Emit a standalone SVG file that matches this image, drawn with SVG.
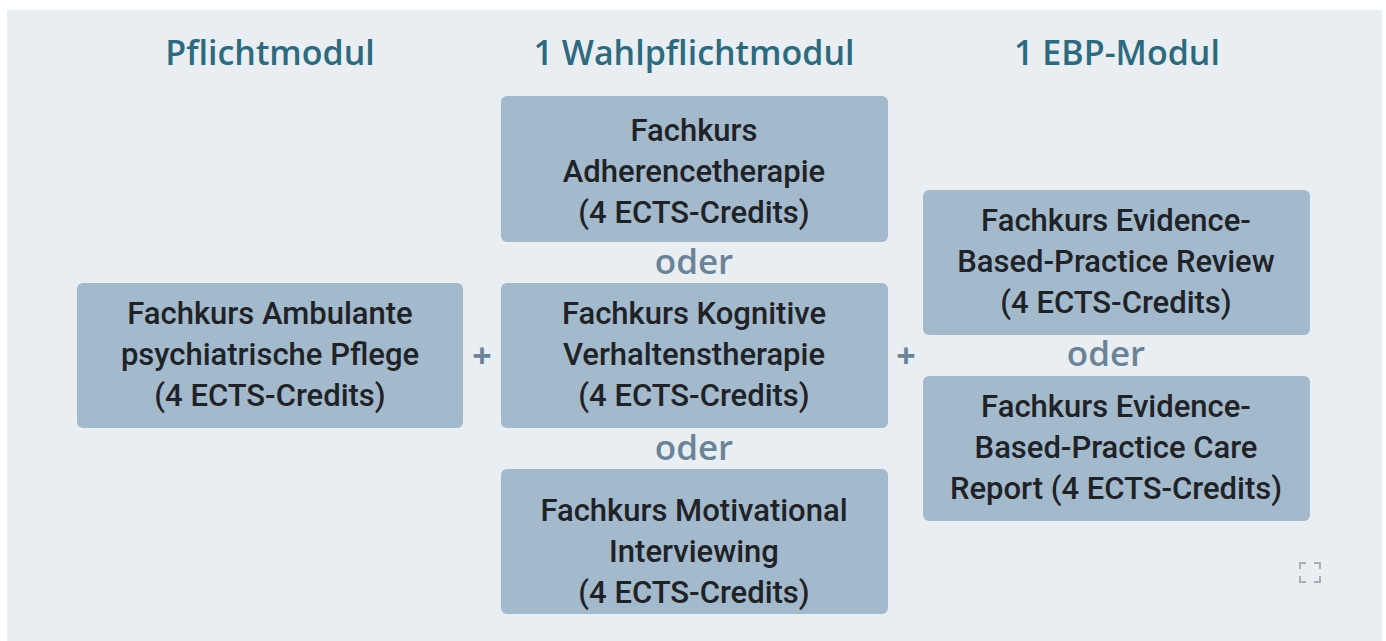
<svg xmlns="http://www.w3.org/2000/svg" width="1386" height="641" viewBox="0 0 1386 641">
<style>
.bg{fill:#e9eef3}
.box{fill:#a3b9cc}
.t{font-family:Roboto,"Open Sans",sans-serif;font-weight:500;font-size:31px;fill:#1f2328;text-anchor:middle}
.h{font-family:"Open Sans","Noto Sans",sans-serif;font-weight:600;font-size:34px;fill:#2e6a7e;text-anchor:middle}
.o{font-family:"Open Sans","Noto Sans",sans-serif;font-weight:600;font-size:35px;fill:#6b8397;text-anchor:middle}
.p{font-family:"Open Sans","Noto Sans",sans-serif;font-weight:700;font-size:34px;fill:#6b8397;text-anchor:middle}
.ic{fill:none;stroke:#a9afb5;stroke-width:2}
</style>
<rect x="0" y="0" width="1386" height="641" fill="#ffffff"/>
<rect class="bg" x="7" y="10" width="1375" height="631"/>
<g id="headers">
<text class="h" x="270" y="65">Pflichtmodul</text>
<text class="h" x="694" y="65">1 Wahlpflichtmodul</text>
<text class="h" x="1117" y="65">1 EBP-Modul</text>
</g>
<g id="node-ambulant">
<rect class="box" x="77" y="283" width="386" height="145" rx="6"/>
<text class="t" x="270" y="324">Fachkurs Ambulante</text>
<text class="t" x="270" y="365">psychiatrische Pflege</text>
<text class="t" x="270" y="406">(4 ECTS-Credits)</text>
</g>
<g id="node-adherence">
<rect class="box" x="501" y="96" width="387" height="146" rx="6"/>
<text class="t" x="694" y="141">Fachkurs</text>
<text class="t" x="694" y="182">Adherencetherapie</text>
<text class="t" x="694" y="223">(4 ECTS-Credits)</text>
</g>
<g id="node-kvt">
<rect class="box" x="501" y="283" width="387" height="145" rx="6"/>
<text class="t" x="694" y="324">Fachkurs Kognitive</text>
<text class="t" x="694" y="365">Verhaltenstherapie</text>
<text class="t" x="694" y="406">(4 ECTS-Credits)</text>
</g>
<g id="node-mi">
<rect class="box" x="501" y="469" width="387" height="145" rx="6"/>
<text class="t" x="694" y="521">Fachkurs Motivational</text>
<text class="t" x="694" y="562">Interviewing</text>
<text class="t" x="694" y="603">(4 ECTS-Credits)</text>
</g>
<g id="node-ebp-review">
<rect class="box" x="923" y="190" width="387" height="145" rx="6"/>
<text class="t" x="1116" y="231">Fachkurs Evidence-</text>
<text class="t" x="1116" y="272">Based-Practice Review</text>
<text class="t" x="1116" y="313">(4 ECTS-Credits)</text>
</g>
<g id="node-ebp-care">
<rect class="box" x="923" y="376" width="387" height="145" rx="6"/>
<text class="t" x="1116" y="417">Fachkurs Evidence-</text>
<text class="t" x="1116" y="458">Based-Practice Care</text>
<text class="t" x="1116" y="499">Report (4 ECTS-Credits)</text>
</g>
<g id="connectors">
<text class="p" x="482" y="368">+</text>
<text class="p" x="906" y="368">+</text>
<text class="o" x="694" y="274">oder</text>
<text class="o" x="694" y="460">oder</text>
<text class="o" x="1106" y="366">oder</text>
</g>
<g id="expand-icon">
<path class="ic" d="M1300 569v-6h6M1314 563h6v6M1320 576v6h-6M1306 582h-6v-6"/>
</g>
</svg>
